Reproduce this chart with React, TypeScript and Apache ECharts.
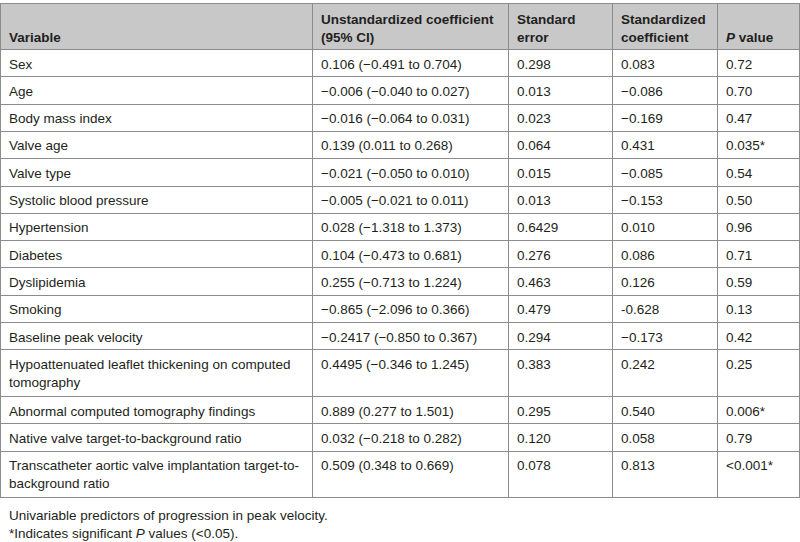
import React, { useEffect, useRef } from "react";
import * as echarts from "echarts";

const headers = [
  "Variable",
  "Unstandardized coefficient\n(95% CI)",
  "Standard\nerror",
  "Standardized\ncoefficient",
  "{i|P} value",
];
const variables = [
  "Sex",
  "Age",
  "Body mass index",
  "Valve age",
  "Valve type",
  "Systolic blood pressure",
  "Hypertension",
  "Diabetes",
  "Dyslipidemia",
  "Smoking",
  "Baseline peak velocity",
  "Hypoattenuated leaflet thickening on computed\ntomography",
  "Abnormal computed tomography findings",
  "Native valve target-to-background ratio",
  "Transcatheter aortic valve implantation target-to-\nbackground ratio",
];
const unstdCoef = [
  "0.106 (\u22120.491 to 0.704)",
  "\u22120.006 (\u22120.040 to 0.027)",
  "\u22120.016 (\u22120.064 to 0.031)",
  "0.139 (0.011 to 0.268)",
  "\u22120.021 (\u22120.050 to 0.010)",
  "\u22120.005 (\u22120.021 to 0.011)",
  "0.028 (\u22121.318 to 1.373)",
  "0.104 (\u22120.473 to 0.681)",
  "0.255 (\u22120.713 to 1.224)",
  "\u22120.865 (\u22122.096 to 0.366)",
  "\u22120.2417 (\u22120.850 to 0.367)",
  "0.4495 (\u22120.346 to 1.245)",
  "0.889 (0.277 to 1.501)",
  "0.032 (\u22120.218 to 0.282)",
  "0.509 (0.348 to 0.669)",
];
const stdErrors = [
  "0.298", "0.013", "0.023", "0.064", "0.015", "0.013", "0.6429", "0.276",
  "0.463", "0.479", "0.294", "0.383", "0.295", "0.120", "0.078",
];
const stdCoef = [
  "0.083", "\u22120.086", "\u22120.169", "0.431", "\u22120.085", "\u22120.153", "0.010", "0.086",
  "0.126", "-0.628", "\u22120.173", "0.242", "0.540", "0.058", "0.813",
];
const pValues = [
  "0.72", "0.70", "0.47", "0.035*", "0.54", "0.50", "0.96", "0.71",
  "0.59", "0.13", "0.42", "0.25", "0.006*", "0.79", "<0.001*",
];
const footnotes = [
  "Univariable predictors of progression in peak velocity.",
  "*Indicates significant {i|P} values (<0.05).",
];

const FONT = "'Liberation Sans', Arial, Helvetica, sans-serif";
const TEXT = "#231f20";
const LINE = "#8c8c8c";
const FS = 13.5;

export default function App() {
  const ref = useRef<HTMLDivElement>(null);
  useEffect(() => {
    if (!ref.current) return;
    const chart = echarts.init(ref.current, null, { renderer: "svg" });
    const colX = [0, 312, 508, 612, 717, 799];
    const top = 3;
    const headerBottom = 49;
    const single = 27.3;
    const double = 46.7;
    const rowTops: number[] = [];
    let y = headerBottom;
    const columns = [variables, unstdCoef, stdErrors, stdCoef, pValues];
    variables.forEach((v) => {
      rowTops.push(y);
      y += v.includes("\n") ? double : single;
    });
    const bottom = y;
    const els: any[] = [];
    els.push({
      type: "rect",
      shape: { x: 0, y: top, width: 800, height: headerBottom - top },
      style: { fill: "#c8c8c8" },
    });
    headers.forEach((h, c) => {
      els.push({
        type: "text",
        x: colX[c] + 9,
        y: 46.5,
        style: {
          text: h,
          fill: TEXT,
          font: `bold ${FS}px ${FONT}`,
          lineHeight: 18,
          align: "left",
          verticalAlign: "bottom",
          rich: { i: { fontStyle: "italic", fontWeight: "bold", fontSize: FS, fontFamily: FONT, fill: TEXT, lineHeight: 18 } },
        },
      });
    });
    rowTops.forEach((rt, r) => {
      columns.forEach((col, c) => {
        els.push({
          type: "text",
          x: colX[c] + 9,
          y: rt + 6,
          style: {
            text: col[r],
            fill: TEXT,
            font: `${FS}px ${FONT}`,
            lineHeight: 18,
            align: "left",
            verticalAlign: "top",
          },
        });
      });
    });
    const hs = [top, headerBottom, ...rowTops.slice(1), bottom];
    hs.forEach((hy) => {
      const yy = Math.round(hy) + 0.5;
      els.push({
        type: "line",
        shape: { x1: 0, y1: yy, x2: 800, y2: yy },
        style: { stroke: LINE, lineWidth: 1 },
      });
    });
    colX.forEach((cx) => {
      const xx = cx + 0.5;
      els.push({
        type: "line",
        shape: { x1: xx, y1: Math.round(top) + 0.5, x2: xx, y2: Math.round(bottom) + 0.5 },
        style: { stroke: LINE, lineWidth: 1 },
      });
    });
    footnotes.forEach((f, i) => {
      els.push({
        type: "text",
        x: 9,
        y: 515 + i * 18,
        style: {
          text: f,
          fill: TEXT,
          font: `${FS}px ${FONT}`,
          align: "left",
          verticalAlign: "middle",
          rich: { i: { fontStyle: "italic", fontSize: FS, fontFamily: FONT, fill: TEXT } },
        },
      });
    });
    chart.setOption({ animation: false, backgroundColor: "#ffffff", graphic: { elements: els } });
    return () => chart.dispose();
  }, []);
  return (
    <div
      ref={ref}
      style={{ position: "fixed", left: 0, top: 0, width: 800, height: 542 }}
    />
  );
}
